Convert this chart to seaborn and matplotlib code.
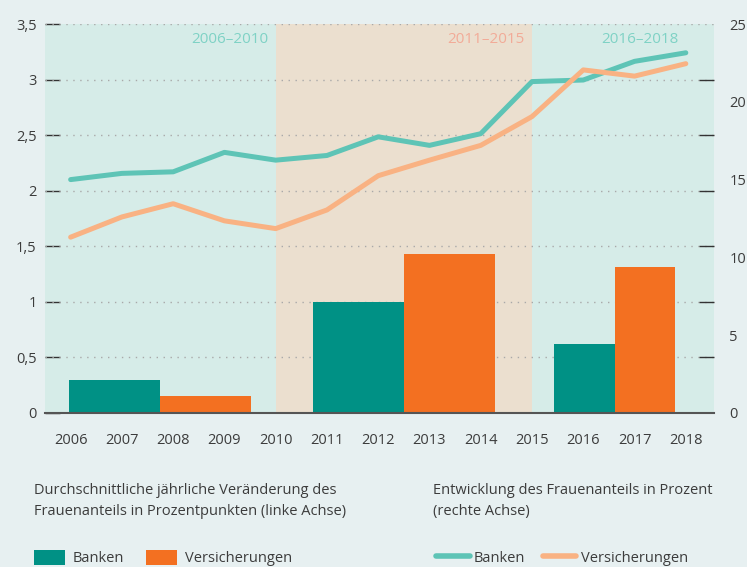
import numpy as np
import pandas as pd
import matplotlib
matplotlib.use("Agg")
import matplotlib.pyplot as plt
from matplotlib.patches import Rectangle
from matplotlib.lines import Line2D
from matplotlib.ticker import FuncFormatter, FixedLocator
import seaborn as sns

# ---- data ----
years = list(range(2006, 2019))
banken_anteil = [15.0, 15.4, 15.5, 16.75, 16.25, 16.55, 17.75, 17.2, 17.95, 21.3, 21.4, 22.6, 23.15]
versich_anteil = [11.3, 12.6, 13.45, 12.35, 11.85, 13.05, 15.25, 16.25, 17.2, 19.05, 22.05, 21.65, 22.45]

periods = ["2006–2010", "2011–2015", "2016–2018"]
period_start = [2006, 2011, 2016]
period_end = [2010, 2015, 2018]
banken_change = [0.30, 1.00, 0.62]
versich_change = [0.15, 1.43, 1.315]

# ---- colours / layout ----
BG = "#e7f0f1"
GREEN_BG = "#d6ece8"
BEIGE_BG = "#ebdfcf"
TEAL = "#009185"
ORANGE = "#f37021"
TEAL_LINE = "#5ec4b6"
ORANGE_LINE = "#f9b283"
TXT = "#3c3c3c"

XMIN, XMAX = 2005.5, 2018.55
BAR_CENTERS = [2007.74, 2012.5, 2016.61]
BAR_WIDTHS = [1.77, 1.77, 1.18]

sns.set_theme(style="white")
plt.rcParams["font.family"] = ["Open Sans", "DejaVu Sans"]

fig = plt.figure(figsize=(7.47, 5.67), dpi=100, facecolor=BG)
ax = fig.add_axes([45 / 747, 1 - 413 / 567, (714 - 45) / 747, (413 - 24) / 567])
ax.set_facecolor(BG)

# period background spans + labels
span_colors = [GREEN_BG, BEIGE_BG, GREEN_BG]
label_colors = ["#7fd2c5", "#f2ab98", "#7fd2c5"]
for i, lab in enumerate(periods):
    lo = max(period_start[i] - 1, XMIN)
    hi = period_end[i] if i < len(periods) - 1 else XMAX
    ax.axvspan(lo, hi, color=span_colors[i], lw=0, zorder=0)
    ax.text(period_end[i] - 0.15, 3.36, lab, ha="right", va="center",
            color=label_colors[i], fontsize=11, zorder=1)

# dotted grid
for v in np.arange(0.5, 3.51, 0.5):
    ax.axhline(v, color="#a9a9a9", lw=1, ls=(0, (1, 4)), zorder=1)

# bars (left axis)
for i in range(len(periods)):
    c, w = BAR_CENTERS[i], BAR_WIDTHS[i]
    ax.bar(c - w / 2, banken_change[i], width=w, color=TEAL, linewidth=0, zorder=2)
    ax.bar(c + w / 2, versich_change[i], width=w, color=ORANGE, linewidth=0, zorder=2)

ax.set_xlim(XMIN, XMAX)
ax.set_ylim(0, 3.5)
ax.set_yticks(np.arange(0, 3.51, 0.5))
ax.yaxis.set_major_formatter(FuncFormatter(lambda v, p: f"{v:g}".replace(".", ",")))
ax.set_xticks(years)
ax.tick_params(axis="y", direction="in", length=11, width=1, color="#333333",
               labelcolor=TXT, labelsize=10.5, pad=6)
ax.tick_params(axis="x", direction="out", length=10.5, width=1.2, color="#555555",
               labelcolor=TXT, labelsize=10.5, pad=4)
for s in ["top", "left", "right"]:
    ax.spines[s].set_visible(False)
ax.spines["bottom"].set_color("#555555")
ax.spines["bottom"].set_linewidth(1.5)
ax.spines["bottom"].set_zorder(3)

# lines (right axis)
ax2 = ax.twinx()
lines_df = pd.DataFrame({
    "Jahr": years * 2,
    "Anteil": banken_anteil + versich_anteil,
    "Branche": ["Banken"] * len(years) + ["Versicherungen"] * len(years),
})
sns.lineplot(data=lines_df, x="Jahr", y="Anteil", hue="Branche",
             palette=[TEAL_LINE, ORANGE_LINE], linewidth=3.6, legend=False,
             ax=ax2, solid_capstyle="round")
ax2.set_ylim(0, 25)
ax2.set_xlim(XMIN, XMAX)
ax2.set_xlabel("")
ax2.set_ylabel("")
ax2.set_yticks(np.arange(0, 26, 5))
ax2.yaxis.set_minor_locator(FixedLocator(np.arange(0, 3.51, 0.5) * 25 / 3.5))
ax2.tick_params(axis="y", which="major", length=0, labelcolor=TXT, labelsize=10.5, pad=11)
ax2.tick_params(axis="y", which="minor", direction="in", length=11, width=1, color="#333333")
for s in ["top", "left", "right", "bottom"]:
    ax2.spines[s].set_visible(False)

# captions
fig.text(34 / 747, 1 - 483 / 567,
         "Durchschnittliche jährliche Veränderung des\nFrauenanteils in Prozentpunkten (linke Achse)",
         ha="left", va="top", fontsize=10.5, color=TXT, linespacing=1.55)
fig.text(433 / 747, 1 - 483 / 567,
         "Entwicklung des Frauenanteils in Prozent\n(rechte Achse)",
         ha="left", va="top", fontsize=10.5, color=TXT, linespacing=1.55)

# legends
bar_handles = [Rectangle((0, 0), 1, 1, color=TEAL, lw=0), Rectangle((0, 0), 1, 1, color=ORANGE, lw=0)]
fig.legend(bar_handles, ["Banken", "Versicherungen"], loc="center left",
           bbox_to_anchor=(34 / 747, 1 - 558 / 567), ncol=2, frameon=False,
           fontsize=10.5, handlelength=2.15, handleheight=1.25, handletextpad=0.5,
           columnspacing=1.5, borderpad=0, borderaxespad=0, labelcolor=TXT)
line_handles = [Line2D([0], [0], color=TEAL_LINE, lw=4, solid_capstyle="round"),
                Line2D([0], [0], color=ORANGE_LINE, lw=4, solid_capstyle="round")]
fig.legend(line_handles, ["Banken", "Versicherungen"], loc="center left",
           bbox_to_anchor=(436 / 747, 1 - 558 / 567), ncol=2, frameon=False,
           fontsize=10.5, handlelength=2.3, handletextpad=0.3,
           columnspacing=1.2, borderpad=0, borderaxespad=0, labelcolor=TXT)

fig.savefig("out.png", dpi=100, facecolor=BG)
